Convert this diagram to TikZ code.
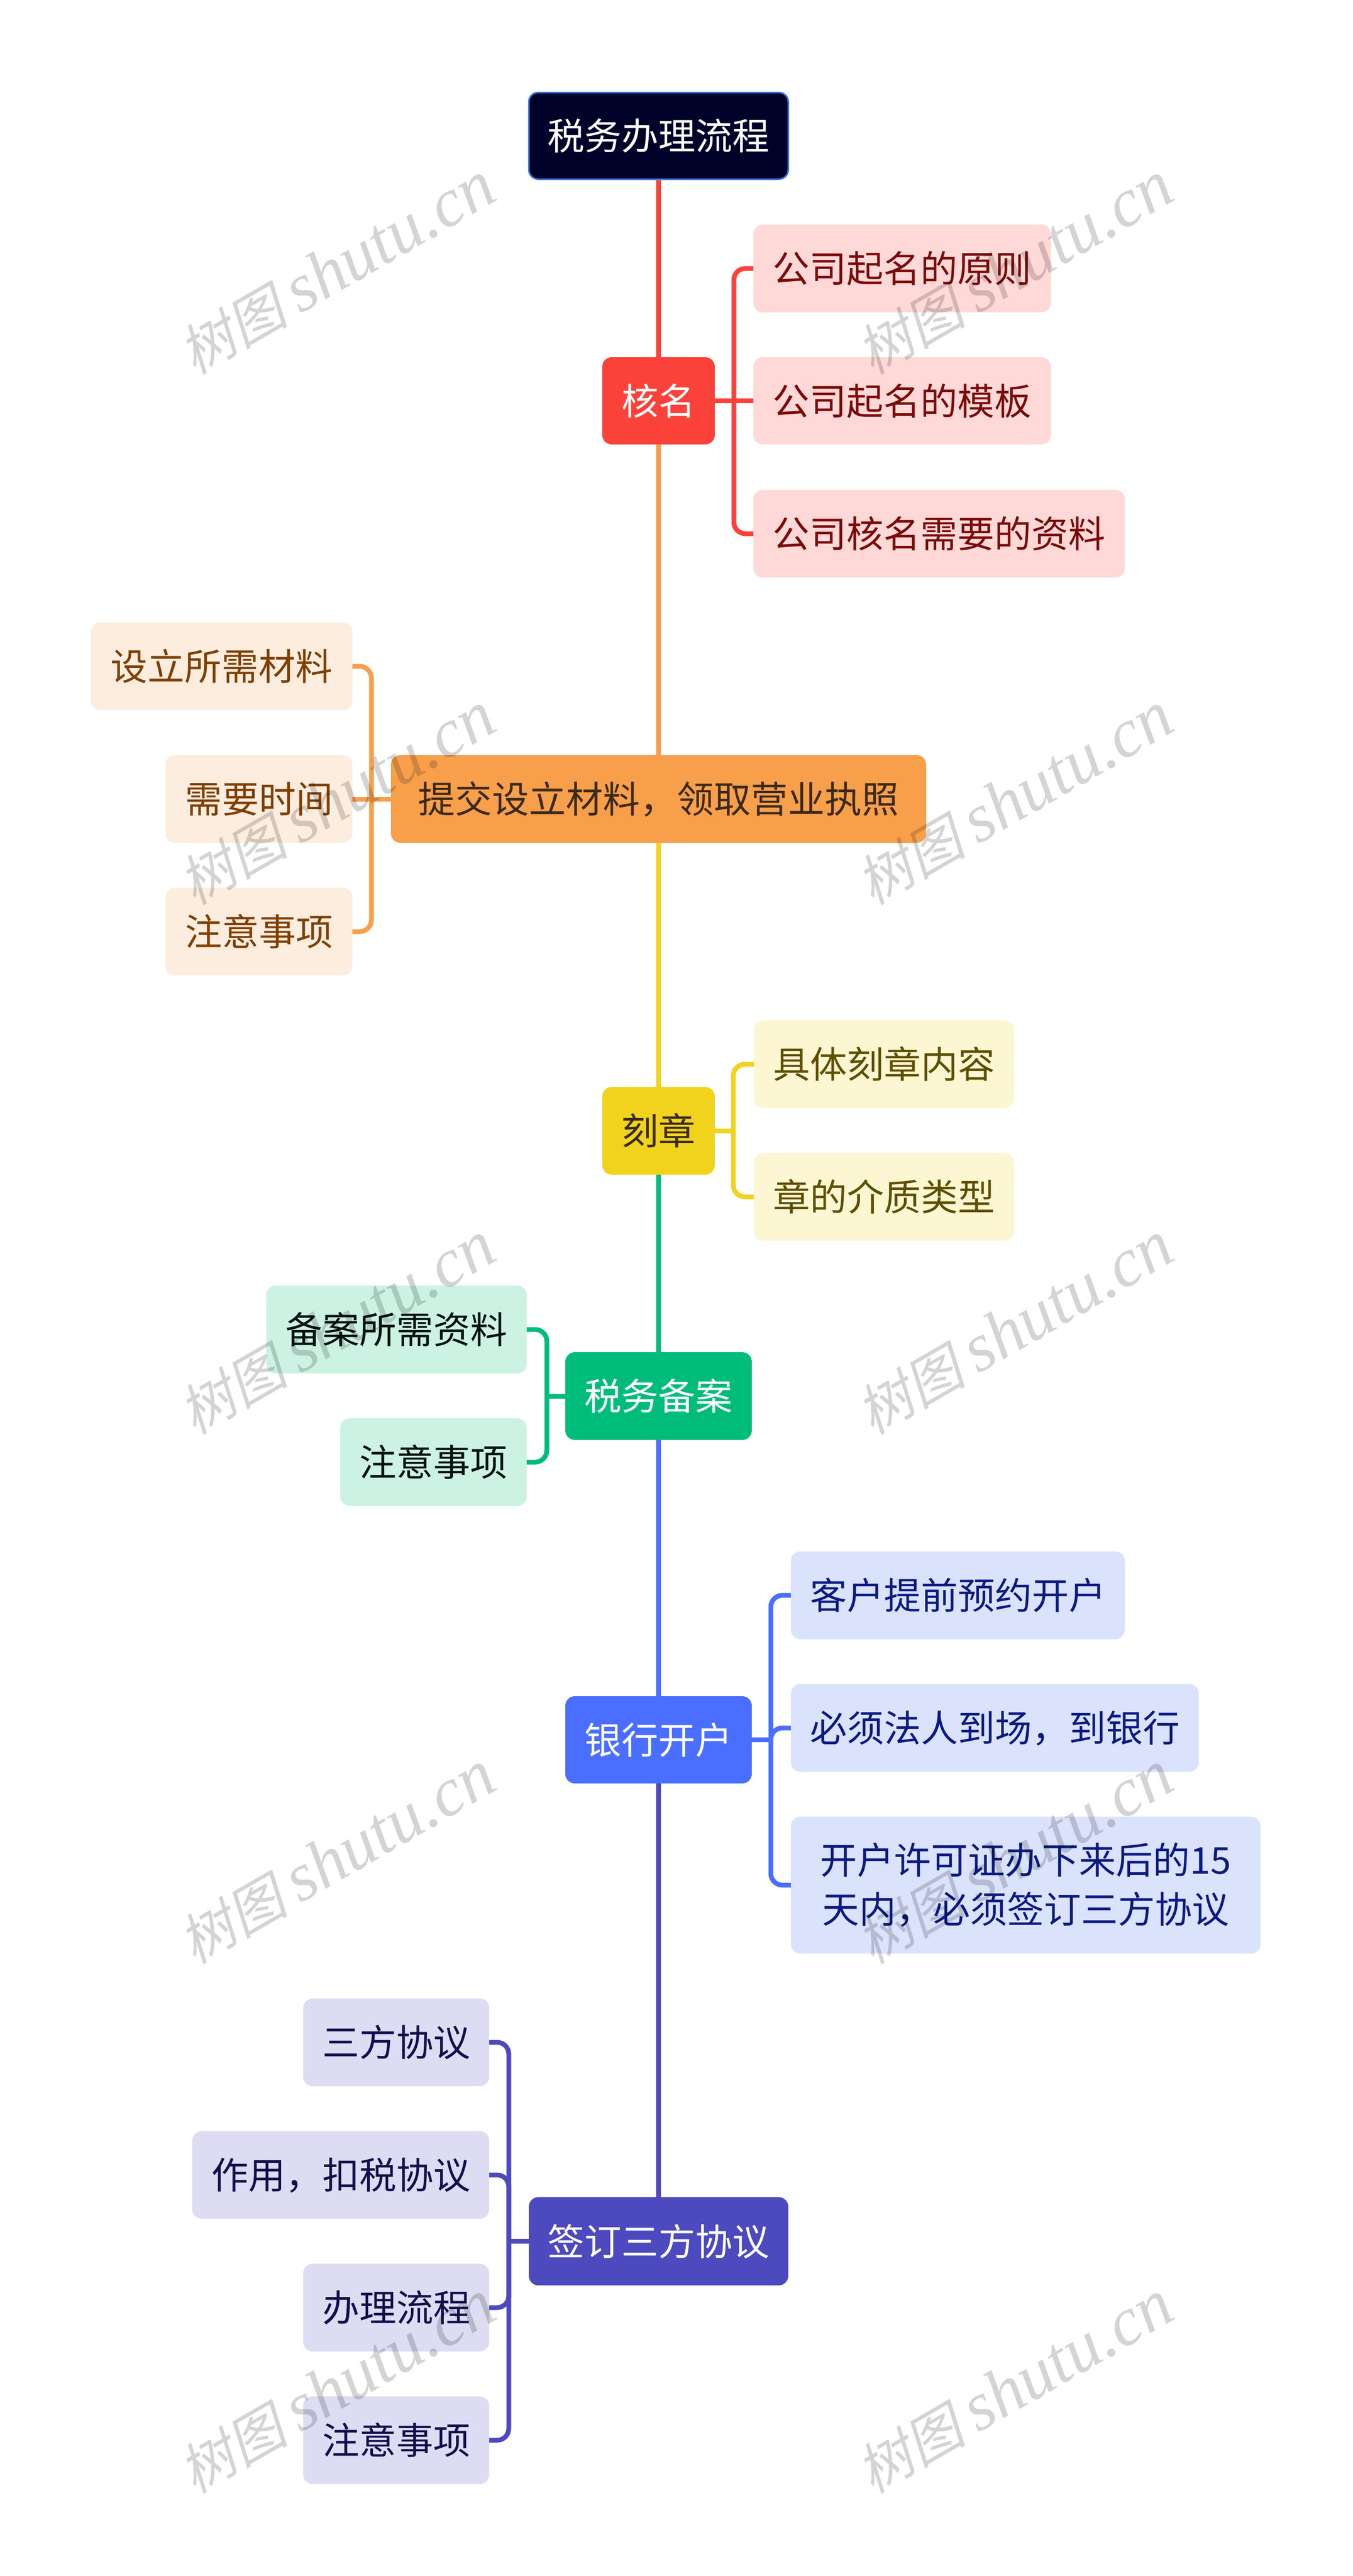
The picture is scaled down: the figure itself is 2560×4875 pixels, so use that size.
\documentclass[tikz,border=0pt]{standalone}
\usepackage{fontspec}
\setmainfont{Noto Sans CJK SC}
\newfontfamily\wmcjk[FakeSlant=0.22]{Noto Sans CJK SC}
\newfontfamily\wmlat{Liberation Serif Italic}
\definecolor{cRed}{HTML}{FA423A}\definecolor{cRedL}{HTML}{FFD9D8}\definecolor{cRedT}{HTML}{7A0A08}
\definecolor{cOra}{HTML}{F79F4B}\definecolor{cOraL}{HTML}{FDEDDF}\definecolor{cOraT}{HTML}{7F3F00}
\definecolor{cYel}{HTML}{F1D31E}\definecolor{cYelL}{HTML}{FCF6D2}\definecolor{cYelT}{HTML}{5E4E00}
\definecolor{cGre}{HTML}{00BC7B}\definecolor{cGreL}{HTML}{CCF2E4}\definecolor{cGreT}{HTML}{06120E}
\definecolor{cBlu}{HTML}{4A6EFF}\definecolor{cBluL}{HTML}{DBE2FC}\definecolor{cBluT}{HTML}{0A1A80}
\definecolor{cInd}{HTML}{4D49BE}\definecolor{cIndL}{HTML}{DEDCF2}\definecolor{cIndT}{HTML}{120F4C}
\definecolor{cRoot}{HTML}{000229}\definecolor{cRootB}{HTML}{2E6FD6}
\definecolor{cDark}{HTML}{3B2A18}
\newcommand{\mmbox}[7]{\node[#6,minimum width={(#4-#2)*1pt},minimum height={(#5-#3)*1pt}] (#1) at ({(#2+#4)/2},{(#3+#5)/2}) {#7};}
\newcommand{\brR}[4]{\draw[link,#4] (#1.east) -- (#1.east -| #3);\draw[link,#4,rounded corners=22pt] (#1.east -| #3) |- (#2.west);}
\newcommand{\brL}[4]{\draw[link,#4] (#1.west) -- (#1.west -| #3);\draw[link,#4,rounded corners=22pt] (#1.west -| #3) |- (#2.east);}
\tikzset{
  mmnode/.style={rectangle,rounded corners=18pt,inner sep=0pt,align=center,
    font=\fontsize{70}{93}\selectfont},
  oneline/.style={mmnode,text height=60pt,text depth=7pt},
  rootbox/.style={oneline,fill=cRoot,draw=cRootB,line width=3pt,text=white},
  redmain/.style={oneline,fill=cRed,text=white},
  redsub/.style={oneline,fill=cRedL,text=cRedT},
  oramain/.style={oneline,fill=cOra,text=cDark},
  orasub/.style={oneline,fill=cOraL,text=cOraT},
  yelmain/.style={oneline,fill=cYel,text=cDark},
  yelsub/.style={oneline,fill=cYelL,text=cYelT},
  gremain/.style={oneline,fill=cGre,text=white},
  gresub/.style={oneline,fill=cGreL,text=cGreT},
  blumain/.style={oneline,fill=cBlu,text=white},
  blusub/.style={oneline,fill=cBluL,text=cBluT},
  blusubtwo/.style={mmnode,fill=cBluL,text=cBluT},
  indmain/.style={oneline,fill=cInd,text=white},
  indsub/.style={oneline,fill=cIndL,text=cIndT},
  link/.style={line width=9pt},
  wmark/.style={rotate=30,text=black,text opacity=0.17,font=\fontsize{104}{104}\selectfont,inner sep=0pt},
}
\begin{document}
\begin{tikzpicture}[x=1pt,y=-1pt]
\fill[white] (0,0) rectangle (2560,4875);
\path[use as bounding box] (0,0) rectangle (2560,4875);
% main nodes
\mmbox{root}{1001}{175}{1492}{339}{rootbox}{税务办理流程}
\mmbox{a}{1140}{676}{1353}{841}{redmain}{核名}
\mmbox{b}{740}{1429}{1753}{1595}{oramain}{提交设立材料，领取营业执照}
\mmbox{c}{1140}{2057}{1353}{2223}{yelmain}{刻章}
\mmbox{d}{1070}{2559}{1423}{2725}{gremain}{税务备案}
\mmbox{e}{1070}{3210}{1423}{3375}{blumain}{银行开户}
\mmbox{f}{1001}{4158}{1492}{4325}{indmain}{签订三方协议}
% children
\mmbox{a1}{1426}{425}{1989}{591}{redsub}{公司起名的原则}
\mmbox{a2}{1426}{676}{1989}{841}{redsub}{公司起名的模板}
\mmbox{a3}{1426}{927}{2129}{1093}{redsub}{公司核名需要的资料}
\mmbox{b1}{172}{1178}{667}{1344}{orasub}{设立所需材料}
\mmbox{b2}{313}{1429}{667}{1595}{orasub}{需要时间}
\mmbox{b3}{313}{1680}{667}{1846}{orasub}{注意事项}
\mmbox{c1}{1427}{1931}{1919}{2097}{yelsub}{具体刻章内容}
\mmbox{c2}{1427}{2182}{1919}{2348}{yelsub}{章的介质类型}
\mmbox{d1}{504}{2433}{997}{2599}{gresub}{备案所需资料}
\mmbox{d2}{644}{2684}{997}{2850}{gresub}{注意事项}
\mmbox{e1}{1497}{2936}{2129}{3102}{blusub}{客户提前预约开户}
\mmbox{e2}{1497}{3187}{2269}{3353}{blusub}{必须法人到场，到银行}
\mmbox{e3}{1497}{3438}{2386}{3697}{blusubtwo}{开户许可证办下来后的15\\天内，必须签订三方协议}
\mmbox{f1}{574}{3782}{926}{3948}{indsub}{三方协议}
\mmbox{f2}{364}{4033}{926}{4199}{indsub}{作用，扣税协议}
\mmbox{f3}{574}{4284}{926}{4450}{indsub}{办理流程}
\mmbox{f4}{574}{4535}{926}{4701}{indsub}{注意事项}
% bracket columns
\coordinate (ka) at (1389,0);
\coordinate (kb) at (703,0);
\coordinate (kc) at (1388,0);
\coordinate (kd) at (1035,0);
\coordinate (ke) at (1459,0);
\coordinate (kf) at (963,0);
% spine
\draw[link,cRed] (root.south) -- (a.north);
\draw[link,cOra] (a.south) -- (b.north);
\draw[link,cYel] (b.south) -- (c.north);
\draw[link,cGre] (c.south) -- (d.north);
\draw[link,cBlu] (d.south) -- (e.north);
\draw[link,cInd] (e.south) -- (f.north);
% branches
\brR{a}{a1}{ka}{cRed}
\draw[link,cRed] (a.east) -- (a2.west);
\brR{a}{a3}{ka}{cRed}
\brL{b}{b1}{kb}{cOra}
\draw[link,cOra] (b.west) -- (b2.east);
\brL{b}{b3}{kb}{cOra}
\brR{c}{c1}{kc}{cYel}
\brR{c}{c2}{kc}{cYel}
\brL{d}{d1}{kd}{cGre}
\brL{d}{d2}{kd}{cGre}
\brR{e}{e1}{ke}{cBlu}
\brR{e}{e2}{ke}{cBlu}
\brR{e}{e3}{ke}{cBlu}
\brL{f}{f1}{kf}{cInd}
\brL{f}{f2}{kf}{cInd}
\brL{f}{f3}{kf}{cInd}
\brL{f}{f4}{kf}{cInd}
% watermarks
\foreach \wx in {637,1920}
  \foreach \wy in {508,1512,2514,3516,4518}
    \node[wmark] (wm\wx-\wy) at (\wx,\wy) {{\wmcjk 树图} {\fontsize{130}{130}\selectfont\wmlat shutu.cn}};
\end{tikzpicture}
\end{document}
